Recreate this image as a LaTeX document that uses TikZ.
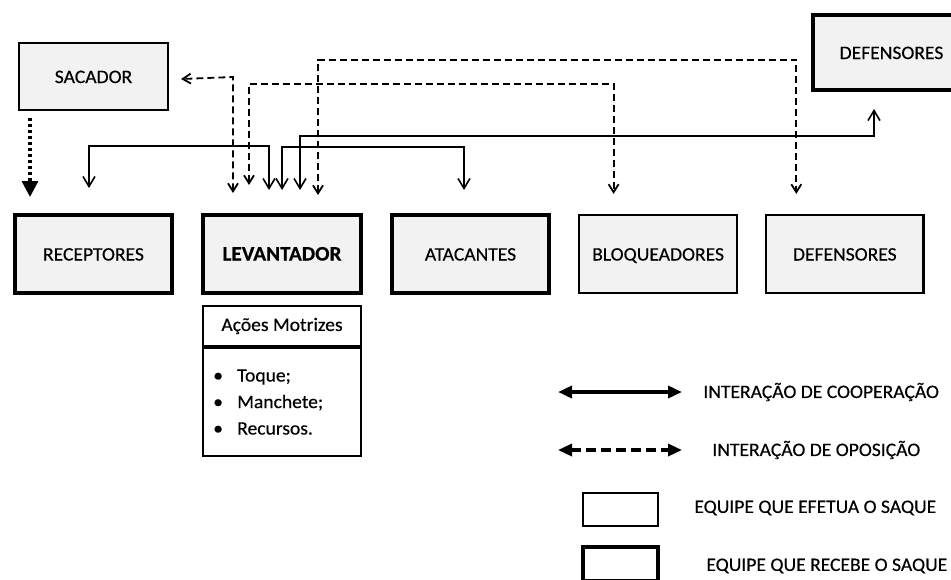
\documentclass[tikz,border=0pt]{standalone}
\usepackage{fontspec}
\setmainfont{Carlito}[FakeStretch=1.03, FakeBold=0.4]
\usepackage{tikz}
\usetikzlibrary{arrows.meta,positioning,calc,shadows}

\begin{document}
\begin{tikzpicture}[
    x=0.5pt, y=-0.5pt,
    node distance=13.5pt,
    every node/.style={font=\fontsize{9.5}{11}\selectfont},
    teambox/.style={
      rectangle, draw=black, fill=black!5, line width=1.1pt,
      minimum width=78.75pt, minimum height=39pt, align=center,
      text height=6.5pt, text depth=0pt,
      drop shadow={shadow xshift=0.7pt, shadow yshift=-0.7pt, opacity=0.15}
    },
    recbox/.style={teambox, line width=2pt},
    acaobox/.style={
      rectangle, draw=black, fill=white, line width=1pt,
      minimum width=78.75pt
    },
    coop/.style={{Straight Barb[length=5pt,width=6pt]}-{Straight Barb[length=5pt,width=6pt]}, line width=0.8pt},
    opos/.style={{Straight Barb[length=4pt,width=5pt]}-{Straight Barb[length=4pt,width=5pt]}, line width=0.9pt,
      dash pattern=on 3.5pt off 2pt},
    saque/.style={-{Triangle[length=8pt,width=8pt]}, line width=1.6pt, dash pattern=on 1.5pt off 1.5pt},
    legcoop/.style={{Triangle[length=7pt,width=6pt]}-{Triangle[length=7pt,width=6pt]}, line width=1.8pt},
    legopos/.style={{Triangle[length=7pt,width=6pt]}-{Triangle[length=7pt,width=6pt]}, line width=1.6pt,
      dash pattern=on 5pt off 2.5pt},
    legtext/.style={anchor=west, inner sep=0pt},
    legbox/.style={rectangle, draw=black, fill=white, minimum width=37.5pt}
  ]
    \useasboundingbox (0,0) rectangle (951,579);

    \node[teambox, minimum width=74.5pt, minimum height=33.5pt] (sacador) at (93.5,76.5) {SACADOR};
    \node[recbox, minimum height=37.5pt] (defsaq) at (891.5,52.5) {DEFENSORES};

    \node[recbox] (recept) at (93.5,254) {RECEPTORES};
    \node[recbox, right=of recept] (levant) {\fontsize{10.3}{12}\selectfont\bfseries LEVANTADOR};
    \node[recbox, right=of levant] (atac) {ATACANTES};
    \node[teambox, right=of atac] (bloq) {BLOQUEADORES};
    \node[teambox, right=of bloq] (defens) {DEFENSORES};

    \node[acaobox, minimum height=20pt, below=5pt of levant] (acoes) {Ações Motrizes};
    \node[acaobox, minimum height=54pt, below=0pt of acoes, text width=68.75pt, inner xsep=5pt,
      align=left, font=\fontsize{9.5}{13.25}\selectfont] (acoeslist)
      {\makebox[12pt][l]{\textbullet}Toque;\\
       \makebox[12pt][l]{\textbullet}Manchete;\\
       \makebox[12pt][l]{\textbullet}Recursos.};

    \draw[saque] ($(sacador.south)+(-63.5,7)$) -- ($(recept.north)+(-63.5,-16)$);

    \draw[opos] ($(levant.north)+(-49,-20)$) -- ++(0,-116) -- ($(sacador.east)+(12,2.5)$);
    \draw[opos] ($(levant.north)+(-33,-28)$) -- ++(0,-101) -| ($(bloq.north)+(-44.5,-20)$);
    \draw[opos] ($(levant.north)+(36,-18)$) -- ++(0,-135) -| ($(defens.north)+(-48.5,-20)$);

    \draw[coop] ($(recept.north)+(-4.5,-25)$) -- ++(0,-42) -| ($(levant.north)+(-13,-23)$);
    \draw[coop] ($(levant.north)+(0,-23)$) -- ++(0,-43) -| ($(atac.north)+(-6.5,-23)$);
    \draw[coop] ($(levant.north)+(18,-23)$) -- ++(0,-54) -| ($(defsaq.south)+(-17.5,17)$);

    \coordinate (coopa) at (558,392);
    \coordinate (coopb) at (682,392);
    \draw[legcoop] (coopa) -- (coopb);
    \node[legtext] (coopt) at (703,392) {INTERAÇÃO DE COOPERAÇÃO};

    \coordinate (oposa) at (558,450);
    \coordinate (oposb) at (682,450);
    \draw[legopos] (oposa) -- (oposb);
    \node[legtext] (opost) at (712,450) {INTERAÇÃO DE OPOSIÇÃO};

    \node[legbox, line width=1.1pt, minimum height=16.5pt] (legsaq) at (620.5,509.5) {};
    \node[legtext] (legsaqt) at (694,508) {EQUIPE QUE EFETUA O SAQUE};
    \node[legbox, line width=1.6pt, minimum height=17pt] (legrec) at (620.5,564) {};
    \node[legtext] (legrect) at (706,566) {EQUIPE QUE RECEBE O SAQUE};
  \end{tikzpicture}
\end{document}
